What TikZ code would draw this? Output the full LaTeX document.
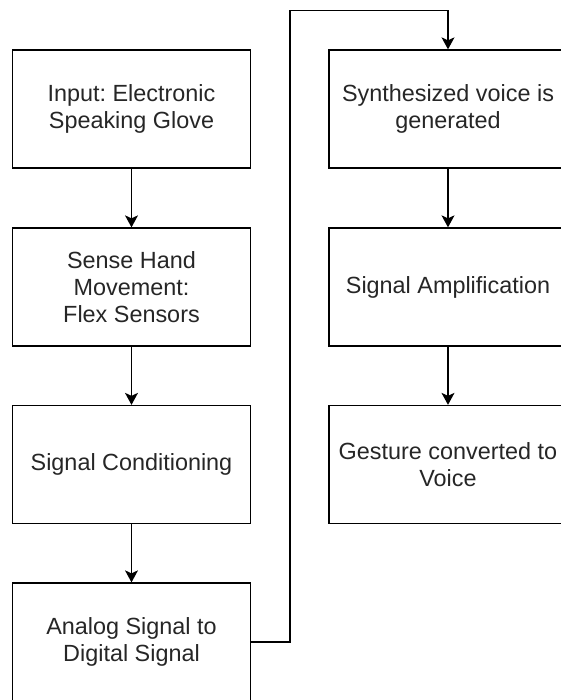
\documentclass[tikz,border=0pt]{standalone}
\usepackage{fontspec}
\setmainfont{Liberation Sans}
\usepackage{tikz}
\usetikzlibrary{arrows.meta,positioning}
\frenchspacing

\begin{document}
\begin{tikzpicture}[x=1pt,y=-1pt,
    stepbox/.style={draw, line width=1.3pt, minimum width=238pt, minimum height=118pt,
      align=center, inner sep=0pt, text=black!85, font=\fontsize{23.4}{27}\selectfont},
    flow/.style={line width=1.3pt, -{Stealth[width=13pt,length=12pt,inset=3pt]}}]
        \useasboundingbox (0,0) rectangle (560,700);
        % --- left column ---
        \node[stepbox] (glove) at (131.5,109) {Input: Electronic\\Speaking Glove};
        \node[stepbox] (sense) at (131.5,287) {Sense Hand\\Movement:\\Flex Sensors};
        \node[stepbox] (cond) at (131.5,464.5) {Signal Conditioning};
        \node[stepbox] (adc) at (131.5,642) {Analog Signal to\\Digital Signal};
        % --- right column ---
        \node[stepbox] (synth) at (448,109) {Synthesized voice is\\generated};
        \node[stepbox] (amp) at (448,287) {Signal Amplification};
        \node[stepbox] (voice) at (448,464.5) {Gesture converted to\\Voice};
        % Connections
        \draw[flow] (glove) -- (sense);
        \draw[flow] (sense) -- (cond);
        \draw[flow] (cond) -- (adc);
        \coordinate (bend) at (290,10.7);
        \draw[flow] (adc.east) -| (bend) -| (synth.north);
        \draw[flow] (synth) -- (amp);
        \draw[flow] (amp) -- (voice);
      \end{tikzpicture}
\end{document}
